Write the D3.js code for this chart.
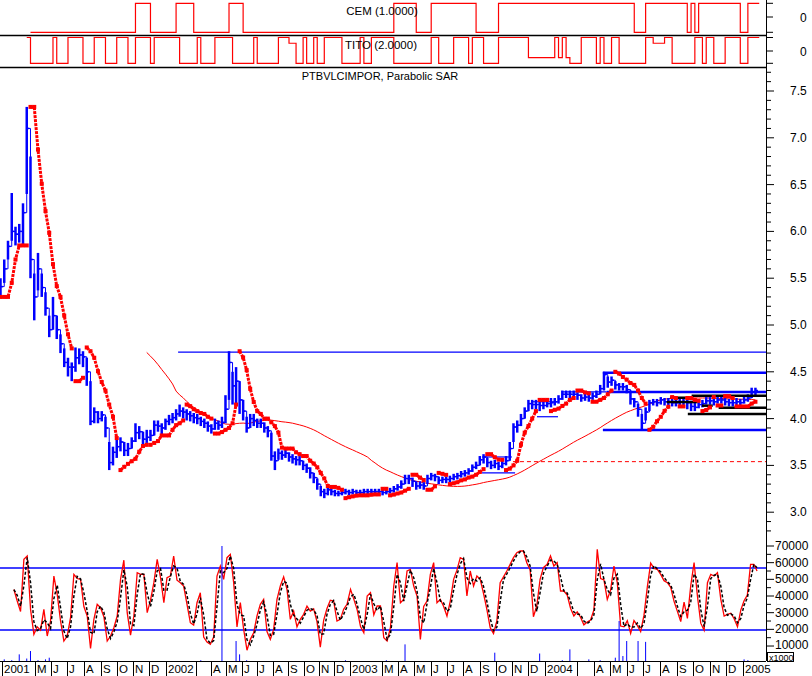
<!DOCTYPE html>
<html><head><meta charset="utf-8">
<script src="https://cdn.jsdelivr.net/npm/d3@7/dist/d3.min.js"></script>
<style>body{margin:0;background:#fff}svg{display:block}text{font-family:"Liberation Sans",Arial,sans-serif;fill:#000}</style>
</head><body><svg id="c" width="812" height="676"></svg>
<script>
// ---------------- DATA ----------------
const firstWeek = "2001-02-26";           // weekly samples start here
const close = [
5.41,5.60,5.84,6.00,5.97,6.00,6.20,7.10,5.70,5.30,
5.60,5.40,5.18,4.95,5.10,4.95,4.80,4.60,4.55,4.55,
4.65,4.68,4.66,4.50,3.97,4.07,4.00,4.04,3.90,3.53,
3.64,3.70,3.75,3.66,3.68,3.76,3.85,3.86,3.78,3.80,
3.82,3.93,3.92,3.90,
3.97,3.99,4.01,4.05,4.08,4.07,4.05,4.03,4.01,4.00,
3.97,3.95,3.92,3.89,3.95,3.93,3.96,4.10,4.60,4.35,
4.40,4.20,4.08,3.90,4.00,3.98,3.95,3.95,3.90,3.87,
3.60,3.55,3.63,3.61,3.63,3.59,3.57,3.56,3.55,3.50,
3.47,3.42,3.37,3.30,3.22,3.20,3.24,3.22,3.20,3.20,
3.21,3.22,
3.21,3.22,3.21,3.21,3.22,3.22,3.22,3.22,3.22,3.21,
3.22,3.23,3.25,3.27,3.30,3.36,3.36,3.33,3.28,3.29,
3.28,3.36,3.39,3.38,3.34,3.35,3.35,3.36,3.38,3.39,
3.41,3.42,3.44,3.48,3.50,3.56,3.59,3.53,3.50,3.52,
3.49,3.52,3.55,3.68,3.91,3.93,4.00,4.08,4.16,4.15,
4.15,4.14,
4.14,4.16,4.17,4.18,4.21,4.26,4.26,4.26,4.26,4.25,
4.22,4.23,4.22,4.24,4.26,4.32,4.47,4.39,4.41,4.36,
4.34,4.34,4.31,4.21,4.18,4.10,3.95,4.07,4.17,4.18,
4.17,4.20,4.18,4.18,4.17,4.17,4.18,4.18,4.17,4.13,
4.12,4.15,4.16,4.19,4.19,4.18,4.20,4.20,4.18,4.17,
4.17,4.18,4.17,4.20,4.22,4.28,4.30];
const hi = [
5.50,5.70,5.90,6.41,6.05,6.08,6.30,7.33,6.80,5.55,
5.77,5.55,5.35,5.10,5.30,5.10,4.90,4.75,4.65,4.60,
4.76,4.75,4.72,4.65,4.40,4.12,4.08,4.08,4.02,3.75,
3.70,3.78,3.80,3.75,3.74,3.80,3.95,3.92,3.86,3.88,
3.88,3.98,3.98,3.95,
4.00,4.04,4.06,4.10,4.15,4.12,4.10,4.08,4.06,4.05,
4.02,4.00,3.97,3.94,4.00,3.98,4.02,4.25,4.72,4.50,
4.55,4.40,4.20,4.02,4.05,4.05,4.00,4.00,3.96,3.92,
3.85,3.65,3.68,3.66,3.68,3.64,3.62,3.60,3.60,3.55,
3.52,3.48,3.42,3.36,3.28,3.25,3.27,3.26,3.24,3.23,
3.24,3.25,
3.24,3.25,3.24,3.24,3.25,3.25,3.25,3.25,3.25,3.24,
3.25,3.26,3.28,3.30,3.34,3.40,3.40,3.37,3.33,3.33,
3.32,3.40,3.42,3.41,3.38,3.38,3.38,3.39,3.41,3.42,
3.44,3.45,3.47,3.51,3.54,3.60,3.62,3.58,3.55,3.56,
3.54,3.56,3.60,3.75,3.95,3.98,4.05,4.12,4.20,4.20,
4.20,4.18,
4.20,4.20,4.22,4.22,4.25,4.30,4.30,4.30,4.30,4.28,
4.26,4.27,4.26,4.28,4.30,4.36,4.50,4.45,4.45,4.40,
4.38,4.38,4.36,4.30,4.22,4.16,4.05,4.12,4.20,4.21,
4.21,4.23,4.22,4.22,4.21,4.21,4.22,4.22,4.20,4.19,
4.17,4.19,4.20,4.23,4.23,4.22,4.24,4.24,4.22,4.21,
4.21,4.22,4.21,4.24,4.26,4.33,4.33];
const lo = [
5.30,5.45,5.70,5.90,5.85,5.88,5.85,6.40,5.50,5.05,
5.37,5.30,5.10,4.87,4.95,4.85,4.70,4.55,4.45,4.40,
4.50,4.58,4.55,4.35,3.93,3.95,3.95,3.97,3.80,3.45,
3.50,3.58,3.65,3.60,3.60,3.68,3.75,3.78,3.72,3.74,
3.76,3.82,3.86,3.82,
3.88,3.93,3.95,3.98,4.02,4.00,3.98,3.97,3.95,3.94,
3.92,3.90,3.86,3.84,3.88,3.88,3.90,3.95,4.20,4.15,
4.15,4.05,3.98,3.85,3.90,3.92,3.90,3.90,3.85,3.80,
3.55,3.45,3.56,3.56,3.58,3.54,3.52,3.50,3.50,3.45,
3.42,3.36,3.31,3.24,3.17,3.15,3.18,3.18,3.17,3.17,
3.18,3.19,
3.18,3.19,3.18,3.18,3.19,3.19,3.19,3.19,3.19,3.18,
3.19,3.20,3.21,3.23,3.25,3.30,3.30,3.27,3.24,3.25,
3.24,3.30,3.34,3.33,3.30,3.31,3.31,3.32,3.34,3.35,
3.37,3.38,3.40,3.43,3.46,3.50,3.52,3.48,3.46,3.47,
3.45,3.47,3.50,3.55,3.75,3.85,3.92,4.00,4.08,4.10,
4.10,4.08,
4.10,4.12,4.12,4.14,4.16,4.20,4.22,4.22,4.22,4.20,
4.18,4.19,4.18,4.20,4.22,4.26,4.30,4.33,4.35,4.31,
4.30,4.30,4.27,4.15,4.12,4.02,3.88,3.98,4.08,4.14,
4.13,4.15,4.14,4.14,4.13,4.13,4.14,4.14,4.10,4.08,
4.08,4.11,4.12,4.15,4.15,4.14,4.16,4.16,4.14,4.13,
4.13,4.14,4.13,4.16,4.18,4.22,4.25];

// expert signals, run-length encoded per week: [level, weeks]
const cemRuns = [[null,8],[0,28],[1,4],[0,7],[1,5],[0,10],[1,4],[0,42],[1,6],[0,4],[1,12],[0,6],[1,36],[0,3],[1,11],[0,1],[1,1],[0,1],[1,11],[0,2],[1,3]];
const titoRuns = [[null,7],[9,1],[0,6],[9,1],[0,3],[9,4],[0,3],[9,3],[0,3],[9,3],[0,2],[9,4],[0,1],[9,7],[0,5],[9,1],[0,4],[9,5],[0,6],[9,1],[0,6],[9,3],[7,2],[0,2],[9,1],[0,2],[9,1],[0,2],[9,5],[0,5],[9,1],[0,2],[9,6],[0,10],[9,2],[0,4],[9,4],[0,1],[9,3],[0,4],[9,8],[2,7],[9,1],[2,1],[9,1],[2,1],[0,3],[9,4],[0,1],[9,1],[0,2],[9,2],[0,7],[9,2],[7,3],[9,2],[0,6],[9,2],[0,1],[9,2],[0,3],[9,4],[0,2],[9,3]];

// lower indicator (x1000), evenly sampled within each span
const osc2001 = [43.9,37,30.7,62,64,32,17,21.5,19.5,32,16,25,52,41,25,13,16,27,53,50.5,50,33.7,28,8.5,26,35,33,27.6,13,16,21,28,50,61.5,30,16.5,28,54,53,53,30,37.5,48,62,51,36];
const osc2002 = [51,52,64,49.5,48,46,35,24,22.5,36,42,15.4,12.4,11,15.4,52,58,50,63,65,48,21.5,36,20,7.5,14,18,28,35,38,18.7,14,20,38,46,51.5,44,26,31,21.5,26,29,34,31,32.3,24.6,9.3,25.4,32.5,37.5,37,25,26,32,35];
const osc2003 = [44,38,31.7,21.7,18,40,42,28.7,34,34,15,13,21,46,60,36,38,55,56,46,40,14,33.7,37,53,60,36,38,33.7,28,37,50,55.5,63,62,40,55,46,52,50,41.5,32,21,17.5,25,48,51.5,55,59,63,66,67,67,60,56,27.6,34,50,57];
const osc2004 = [59,64,58,60,43,43,40.6,32.7,28,30.5,27.3,22.7,24.4,25.6,31.7,68,50.5,49.7,38,43.6,58,48,22,21.5,25.2,17.5,25.3,22.4,18.7,28.5,45.5,59.7,56.6,56,53,49.2,48,45.2,36.8,30.8,24.7,36.3,26.6,46.3,60,40,23.7,19.5,48,53,52,54,38,28,29,29.7,26.4,21.5,31.7];
const osc2005 = [37.2,40.6,59,59,55];
const oscSpans = [["2001-03-23","2001-12-28"],["2002-01-03","2002-12-26"],["2003-01-02","2003-12-29"],["2004-01-05","2004-12-28"],["2005-01-03","2005-01-27"]];
const oscBands = [56800, 19600];

// volume spikes: week index / value
const volWeek  = [1,3,5,7,8,10,12,13,14,28,40,52,54,60,62,64,65,67,88,95,106,111,135,147,153,155,160,163,167,168,169,170,173,175,190,194,201,202];
const volValue = [2000,1500,5000,2500,7000,1500,2000,3000,1000,800,800,800,1500,70000,1000,13000,5000,1500,800,1500,1500,11000,6000,5500,1500,8000,2000,1500,3000,25000,4000,13000,13000,12500,800,1000,2000,1500];

// drawn support / resistance lines: [value, from, to(null = right edge)]
const blueLinesThin  = [[4.71,"2002-01-25",null],[4.285,"2004-02-01","2004-04-24"],[3.59,"2003-09-05","2003-10-31"],[3.42,"2003-09-05","2003-11-06"],[4.18,"2003-12-07","2004-01-23"],[4.02,"2003-12-17","2004-01-25"]];
const blueLinesThick = [[4.49,"2004-04-17",null],[4.285,"2004-04-24",null],[3.878,"2004-04-17",null]];
const blackLines     = [[4.245,"2004-09-28",null],[4.223,"2004-08-19","2004-09-17"],[4.177,"2004-08-13","2004-10-09"],[4.138,"2004-10-17","2004-11-06"],[4.117,"2004-11-17",null],[4.049,"2004-09-21",null]];
const redDashLines   = [[3.54,"2003-11-02",null]];

const priceTicks = [3.0,3.5,4.0,4.5,5.0,5.5,6.0,6.5,7.0,7.5];
const oscTicks = [10000,20000,30000,40000,50000,60000,70000];
const monthLabels = ["2001","","M","J","J","A","S","O","N","D",
 "2002","","","A","M","J","J","A","S","O","N","D",
 "2003","","M","A","M","J","J","A","S","O","N","D",
 "2004","","","A","M","J","J","A","S","O","N","D","2005"];
const maWeeks = 40;

// ---------------- CHART ----------------
const P = d3.timeParse("%Y-%m-%d");
const svg = d3.select("#c");
const R = 766;
const x = d3.scaleTime()
  .domain(["2001-02-26","2002-01-01","2003-01-01","2004-01-01","2005-01-01"].map(P))
  .range([0.5,166,350,545,743]);
const t0 = P(firstWeek);
const wk = i => d3.timeDay.offset(t0, 7*i);
const yP = d3.scaleLinear().domain([3.0,7.5]).range([512.2,91]);
const yO = d3.scaleLinear().domain([0,70000]).range([662.7,546]);
const yCem = d3.scaleLinear().domain([0,1]).range([32.3,3.3]);
const yTito = d3.scaleLinear().domain([0,1]).range([63.3,37.5]);

const defs = svg.append("defs");
defs.append("clipPath").attr("id","cp").append("rect").attr("x",0).attr("y",68).attr("width",R).attr("height",472);
defs.append("clipPath").attr("id","cb").append("rect").attr("x",0).attr("y",541).attr("width",R).attr("height",120);

// top expert panels
function expand(runs){const o=[];runs.forEach(([v,n])=>{for(let i=0;i<n;i++)o.push(v);});return o;}
function stepSeries(vals){const pts=vals.map((v,i)=>({t:wk(i),v}));pts.push({t:wk(vals.length),v:vals[vals.length-1]});return pts;}
const cemVals = expand(cemRuns);
const titoVals = expand(titoRuns).map(v=>v==null?null:v/9);
svg.append("path").datum(stepSeries(cemVals))
  .attr("d", d3.line().defined(d=>d.v!=null).x(d=>x(d.t)).y(d=>yCem(d.v)).curve(d3.curveStepAfter))
  .attr("fill","none").attr("stroke","#f00").attr("stroke-width",1.2);
svg.append("path").datum(stepSeries(titoVals))
  .attr("d", d3.line().defined(d=>d.v!=null).x(d=>x(d.t)).y(d=>yTito(d.v)).curve(d3.curveStepAfter))
  .attr("fill","none").attr("stroke","#f00").attr("stroke-width",1.2);
svg.append("text").attr("x",382).attr("y",15).attr("text-anchor","middle").style("font-size","11.5px").text("CEM (1.0000)");
svg.append("text").attr("x",381).attr("y",49).attr("text-anchor","middle").style("font-size","11.5px").text("TITO (2.0000)");
[35.5,67.5].forEach(y=>svg.append("line").attr("x1",0).attr("x2",R).attr("y1",y).attr("y2",y).attr("stroke","#000").attr("stroke-width",1.5));
svg.append("text").attr("x",380).attr("y",80).attr("text-anchor","middle").style("font-size","11px").text("PTBVLCIMPOR, Parabolic SAR");

// ---- price panel ----
const gp = svg.append("g").attr("clip-path","url(#cp)");
function hl(list, color, w, dash){
  list.forEach(([v,f,t])=>{
    gp.append("line").attr("x1",x(P(f))).attr("x2",t?x(P(t)):R).attr("y1",yP(v)).attr("y2",yP(v))
      .attr("stroke",color).attr("stroke-width",w).attr("stroke-dasharray",dash||null);
  });
}
hl(blueLinesThin,"#00f",1.2);
hl(redDashLines,"#f00",1,"4,3");

// moving average
const ma = close.map((c,i)=> i<maWeeks-1 ? null : d3.mean(close.slice(i-maWeeks+1,i+1)));
gp.append("path").datum(ma.map((v,i)=>({t:wk(i),v})))
  .attr("d", d3.line().defined(d=>d.v!=null).x(d=>x(d.t)).y(d=>yP(d.v)))
  .attr("fill","none").attr("stroke","#f00").attr("stroke-width",1);

// price bars
const bars = close.map((c,i)=>({t:wk(i),c,h:hi[i],l:lo[i]}));
gp.append("path").datum(bars)
  .attr("d", d3.line().x(d=>x(d.t)).y(d=>yP(d.c)).curve(d3.curveStepAfter))
  .attr("fill","none").attr("stroke","#00f").attr("stroke-width",1);
gp.selectAll("line.bar").data(bars).join("line").attr("class","bar")
  .attr("x1",d=>x(d.t)).attr("x2",d=>x(d.t)).attr("y1",d=>yP(d.h)).attr("y2",d=>yP(d.l))
  .attr("stroke","#00f").attr("stroke-width",2.5);
gp.selectAll("line.cl").data(bars).join("line").attr("class","cl")
  .attr("x1",d=>x(d.t)).attr("x2",d=>x(d.t)+2.5).attr("y1",d=>yP(d.c)).attr("y2",d=>yP(d.c))
  .attr("stroke","#00f").attr("stroke-width",1.5);

hl(blueLinesThick,"#00f",2.5);
hl(blackLines,"#000",2.5);

// parabolic SAR
function parabolicSar(h,l,a0,step,amax){
  const out=[]; let up=true, af=a0, ep=h[0], s=l[0];
  out.push({s,up});
  for(let i=1;i<h.length;i++){
    let ns = s + af*(ep-s);
    if(up){
      ns = Math.min(ns, l[i-1], l[Math.max(0,i-2)]);
      if(l[i]<ns){up=false; ns=ep; ep=l[i]; af=a0;}
      else if(h[i]>ep){ep=h[i]; af=Math.min(af+step,amax);}
    } else {
      ns = Math.max(ns, h[i-1], h[Math.max(0,i-2)]);
      if(h[i]>ns){up=true; ns=ep; ep=h[i]; af=a0;}
      else if(l[i]<ep){ep=l[i]; af=Math.min(af+step,amax);}
    }
    s=ns; out.push({s,up});
  }
  return out;
}
const sar = parabolicSar(hi,lo,0.1,0.1,0.4).map((d,i)=>({t:wk(i),s:d.s,up:d.up}));
// group consecutive points of the same trend into one thick dotted run
const runs=[]; sar.forEach((d,i)=>{ if(i===0||d.up!==sar[i-1].up) runs.push([]); runs[runs.length-1].push(d); });
gp.selectAll("path.sar").data(runs).join("path").attr("class","sar")
  .attr("d", d3.line().x(d=>x(d.t)).y(d=>yP(d.s)))
  .attr("fill","none").attr("stroke","#f00").attr("stroke-width",3).attr("stroke-dasharray","3,1");
gp.selectAll("rect.sar").data(sar).join("rect").attr("class","sar")
  .attr("x",d=>x(d.t)-2).attr("y",d=>yP(d.s)-2).attr("width",4).attr("height",4).attr("fill","#f00");

// ---- lower panel ----
const gb = svg.append("g").attr("clip-path","url(#cb)");
oscBands.forEach(v=>gb.append("line").attr("x1",0).attr("x2",R).attr("y1",yO(v)).attr("y2",yO(v)).attr("stroke","#00f").attr("stroke-width",1.5));
const oscAll = [];
[osc2001,osc2002,osc2003,osc2004,osc2005].forEach((arr,k)=>{
  const a=P(oscSpans[k][0]).getTime(), b=P(oscSpans[k][1]).getTime();
  arr.forEach((v,i)=>oscAll.push({t:new Date(a+(b-a)*i/(arr.length-1)), v:v*1000}));
});
const sm = oscAll.map((d,i)=>({t:d.t, v: i===0?d.v:(d.v+oscAll[i-1].v)/2}));
gb.append("path").datum(oscAll).attr("d",d3.line().x(d=>x(d.t)).y(d=>yO(d.v)))
  .attr("fill","none").attr("stroke","#f00").attr("stroke-width",1.3);
gb.append("path").datum(sm).attr("d",d3.line().x(d=>x(d.t)).y(d=>yO(d.v)))
  .attr("fill","none").attr("stroke","#000").attr("stroke-width",1.5).attr("stroke-dasharray","3,2");
gb.selectAll("line.vol").data(volWeek.map((w,i)=>({t:wk(w),v:volValue[i]}))).join("line").attr("class","vol")
  .attr("x1",d=>x(d.t)).attr("x2",d=>x(d.t)).attr("y1",yO(0)).attr("y2",d=>yO(d.v))
  .attr("stroke","#00f").attr("stroke-width",1);

// ---- axes ----
svg.append("line").attr("x1",R+0.5).attr("x2",R+0.5).attr("y1",0).attr("y2",661).attr("stroke","#000");
[3.3,17,32.3,37.5,51,63.3].forEach(y=>svg.append("line").attr("x1",R).attr("x2",R+7).attr("y1",y).attr("y2",y).attr("stroke","#000"));
svg.append("text").attr("x",800).attr("y",22).style("font-size","12px").text("0");
svg.append("text").attr("x",800).attr("y",56).style("font-size","12px").text("0");
d3.range(27,78).map(k=>k/10).forEach(v=>{
  const y=yP(v); if(y<69||y>539) return;
  const major = Math.abs(v*2-Math.round(v*2))<1e-6;
  svg.append("line").attr("x1",R).attr("x2",R+(major?8:5)).attr("y1",y).attr("y2",y).attr("stroke","#000");
});
priceTicks.forEach(v=>svg.append("text").attr("x",790).attr("y",yP(v)+4).style("font-size","12px").text(v.toFixed(1)));
d3.range(5000,75000,5000).forEach(v=>{
  const y=yO(v); if(y<542) return;
  svg.append("line").attr("x1",R).attr("x2",R+(v%10000===0?8:5)).attr("y1",y).attr("y2",y).attr("stroke","#000");
});
oscTicks.forEach(v=>svg.append("text").attr("x",775).attr("y",v===10000?yO(v)+2.5:yO(v)+4).style("font-size","12px").text(v));
svg.append("rect").attr("x",767.5).attr("y",652.5).attr("width",26).attr("height",9).attr("fill","#fff").attr("stroke","#000");
svg.append("text").attr("x",769).attr("y",660.5).style("font-size","9px").text("x1000");

// x axis
svg.append("line").attr("x1",0).attr("x2",R).attr("y1",661.5).attr("y2",661.5).attr("stroke","#000");
const months = d3.timeMonth.range(new Date(2001,2,1), new Date(2005,1,1));
months.forEach(m=>svg.append("line").attr("x1",Math.round(x(m))+0.5).attr("x2",Math.round(x(m))+0.5).attr("y1",661).attr("y2",676).attr("stroke","#000"));
months.forEach((m,i)=>{
  const lab = monthLabels[i]; if(!lab) return;
  const xx = Math.round(x(m))+2;
  const t = svg.append("text").attr("x",xx).attr("y",673).style("font-size","11.5px").text(lab);
  const w = t.node().getComputedTextLength();
  svg.insert("rect","text:last-of-type").attr("x",xx).attr("y",662).attr("width",w+1).attr("height",14).attr("fill","#fff");
});
</script></body></html>
